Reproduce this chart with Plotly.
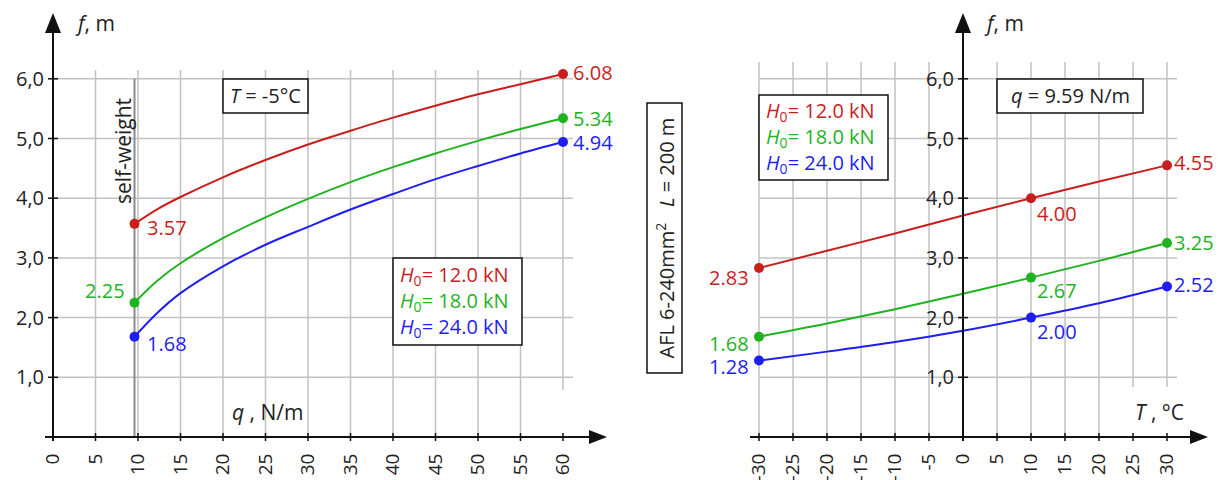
import plotly.graph_objects as go

# ---------------- data ----------------
q_left = [9.59, 12.2, 15, 20, 25, 30, 35, 40, 45, 50, 55, 60]
f_q_h12 = [3.57, 3.81, 4.02, 4.35, 4.64, 4.90, 5.13, 5.35, 5.55, 5.74, 5.91, 6.08]
f_q_h18 = [2.25, 2.61, 2.91, 3.33, 3.68, 3.99, 4.27, 4.52, 4.75, 4.96, 5.16, 5.34]
f_q_h24 = [1.68, 2.07, 2.41, 2.86, 3.22, 3.52, 3.81, 4.07, 4.32, 4.54, 4.75, 4.94]

t_right = [-30, -20, -10, 0, 10, 20, 30]
f_t_h12 = [2.83, 3.12, 3.41, 3.71, 4.00, 4.28, 4.55]
f_t_h18 = [1.68, 1.90, 2.14, 2.40, 2.67, 2.95, 3.25]
f_t_h24 = [1.28, 1.43, 1.59, 1.78, 2.00, 2.24, 2.52]
t_marked = [-30, 10, 30]

h0_values = ["12.0", "18.0", "24.0"]
q_self_weight = 9.59
temp_fixed = "-5"
q_ticks = list(range(0, 61, 5))
q_ticktext = [str(v) for v in q_ticks]
t_ticks = list(range(-30, 31, 5))
t_ticktext = [str(v) for v in t_ticks]
f_ticks = [1, 2, 3, 4, 5, 6]
f_ticktext = ["1,0", "2,0", "3,0", "4,0", "5,0", "6,0"]
cable_text = "AFL 6-240mm<sup>2</sup>\u00a0\u00a0\u00a0<i>L</i> = 200 m"

colors = ["#c81e1e", "#1fb31f", "#1e1ef0"]

# ---------------- geometry (pixels) ----------------
W, H = 1223, 480
Y0, PXU = 437, 59.7          # f = 0 line, px per metre
LX0, LPX = 53, 8.5           # q = 0 line, px per N/m
RX0, RPX = 963, 6.8          # T = 0 line, px per degC
SPLIT = 612
FONT = "Open Sans"
TXT = "#222222"
GRID = "#c2c2c2"


def px(x):
    return x / W


def py(y):
    return 1 - y / H


def f_of(y):
    return (Y0 - y) / PXU


def q_of(x):
    return (x - LX0) / LPX


def t_of(x):
    return (x - RX0) / RPX


fig = go.Figure()

left_series = [f_q_h12, f_q_h18, f_q_h24]
right_series = [f_t_h12, f_t_h18, f_t_h24]

for vals, c in zip(left_series, colors):
    fig.add_trace(go.Scatter(x=q_left, y=vals, mode="lines", line=dict(color=c, width=2, shape="spline"),
                             xaxis="x", yaxis="y", hoverinfo="skip"))
    fig.add_trace(go.Scatter(x=[q_left[0], q_left[-1]], y=[vals[0], vals[-1]], mode="markers",
                             marker=dict(color=c, size=10), xaxis="x", yaxis="y", hoverinfo="skip"))

for vals, c in zip(right_series, colors):
    fig.add_trace(go.Scatter(x=t_right, y=vals, mode="lines", line=dict(color=c, width=2, shape="spline"),
                             xaxis="x2", yaxis="y2", hoverinfo="skip"))
    mx = [t for t in t_right if t in t_marked]
    my = [v for t, v in zip(t_right, vals) if t in t_marked]
    fig.add_trace(go.Scatter(x=mx, y=my, mode="markers", marker=dict(color=c, size=10),
                             xaxis="x2", yaxis="y2", hoverinfo="skip"))

shapes = []
annotations = []

# ---------- grid ----------
for q in q_ticks[1:]:
    y0 = f_of(390) if q == q_ticks[-1] else 0
    shapes.append(dict(type="line", xref="x", yref="y", x0=q, x1=q, y0=y0, y1=f_of(70),
                       line=dict(color=GRID, width=1.5), layer="below"))
for f in f_ticks:
    shapes.append(dict(type="line", xref="x", yref="y", x0=0, x1=q_of(573), y0=f, y1=f,
                       line=dict(color=GRID, width=1.5), layer="below"))
for t in t_ticks:
    if t == 0:
        continue
    y0 = f_of(387) if t >= 25 else 0
    shapes.append(dict(type="line", xref="x2", yref="y2", x0=t, x1=t, y0=y0, y1=f_of(62),
                       line=dict(color=GRID, width=1.5), layer="below"))
for f in f_ticks:
    shapes.append(dict(type="line", xref="x2", yref="y2", x0=t_ticks[0], x1=t_of(1177), y0=f, y1=f,
                       line=dict(color=GRID, width=1.5), layer="below"))

# self-weight line
shapes.append(dict(type="line", xref="x", yref="y", x0=q_self_weight, x1=q_self_weight, y0=0, y1=6.0,
                   line=dict(color="#8a8a8a", width=2), layer="below"))
annotations.append(dict(xref="x", yref="y", x=q_of(123), y=f_of(151), text="self-weight", textangle=-90,
                        xanchor="center", yanchor="middle",
                        showarrow=False, font=dict(family=FONT, size=21, color=TXT)))

# ---------- axes ----------
AX = dict(color="#111111", width=2)
for xr, yr, xa, xb in [("x", "y", q_of(45), q_of(590)), ("x2", "y2", t_of(750), t_of(1191))]:
    shapes.append(dict(type="line", xref=xr, yref=yr, x0=xa, x1=xb, y0=0, y1=0, line=AX, layer="above"))
    shapes.append(dict(type="path", xref=xr, yref=yr, xsizemode="pixel", ysizemode="pixel",
                       xanchor=xb, yanchor=0, path="M -1 -7 L 17 0 L -1 7 Z",
                       fillcolor="#111111", line=dict(width=0), layer="above"))
for xr, yr in [("x", "y"), ("x2", "y2")]:
    shapes.append(dict(type="line", xref=xr, yref=yr, x0=0, x1=0, y0=f_of(441), y1=f_of(30),
                       line=AX, layer="above"))
    shapes.append(dict(type="path", xref=xr, yref=yr, xsizemode="pixel", ysizemode="pixel",
                       xanchor=0, yanchor=f_of(32), path="M -8 -1 L 0 19 L 8 -1 Z",
                       fillcolor="#111111", line=dict(width=0), layer="above"))

# tick marks (crossing)
for q in q_ticks:
    shapes.append(dict(type="line", xref="x", yref="y", ysizemode="pixel", yanchor=0, y0=-4, y1=4,
                       x0=q, x1=q, line=dict(color="#111111", width=1.5), layer="above"))
for t in t_ticks:
    shapes.append(dict(type="line", xref="x2", yref="y2", ysizemode="pixel", yanchor=0, y0=-4, y1=4,
                       x0=t, x1=t, line=dict(color="#111111", width=1.5), layer="above"))
for xr, yr in [("x", "y"), ("x2", "y2")]:
    for f in f_ticks:
        shapes.append(dict(type="line", xref=xr, yref=yr, xsizemode="pixel", xanchor=0, x0=-5, x1=5,
                           y0=f, y1=f, line=dict(color="#111111", width=1.5), layer="above"))

# axis titles
for x, y, t in [(73, 23, "<i>f</i>, m"), (230, 412, "<i>q</i> , N/m"),
                (982, 23, "<i>f</i>, m"), (1133, 412, "<i>T</i> , °C")]:
    annotations.append(dict(xref="paper", yref="paper", x=px(x), y=py(y), xanchor="left", yanchor="middle",
                            text=t, showarrow=False, font=dict(family=FONT, size=21, color=TXT)))


# ---------- boxes ----------
def box(x0, y0, x1, y1):
    shapes.append(dict(type="rect", xref="paper", yref="paper", x0=px(x0), x1=px(x1), y0=py(y1), y1=py(y0),
                       fillcolor="white", line=dict(color="#111111", width=1.5), layer="above"))


def centered(x, y, text, angle=0):
    annotations.append(dict(xref="paper", yref="paper", x=px(x), y=py(y), text=text, textangle=angle,
                            xanchor="center", yanchor="middle", showarrow=False,
                            font=dict(family=FONT, size=20, color=TXT)))


box(223, 79, 308, 113)
centered(265.5, 96, "<i>T</i> = " + temp_fixed + "°C")
box(997, 79, 1143, 113)
centered(1070, 96, "<i>q</i> = " + f"{q_self_weight:.2f}" + " N/m")
box(647, 103, 682, 373)
centered(664.5, 238, cable_text, -90)

legend_text = "<br>".join(
    f'<span style="color:{c}"><i>H</i><sub>0</sub>= {h} kN</span>' for c, h in zip(colors, h0_values))
box(393, 258, 522, 345)
annotations.append(dict(xref="paper", yref="paper", x=px(398), y=py(301.5), xanchor="left", yanchor="middle",
                        align="left", text=legend_text, showarrow=False, font=dict(family=FONT, size=20)))
box(759, 95, 888, 180)
annotations.append(dict(xref="paper", yref="paper", x=px(764), y=py(137.5), xanchor="left", yanchor="middle",
                        align="left", text=legend_text, showarrow=False, font=dict(family=FONT, size=20)))


# ---------- value labels ----------
def vlabel(xr, yr, x, y, c, dx, dy, anchor):
    annotations.append(dict(xref=xr, yref=yr, x=x, y=y, text=f"{y:.2f}", showarrow=False, xanchor=anchor,
                            yanchor="middle", xshift=dx, yshift=dy, font=dict(family=FONT, size=20, color=c)))


left_start = [(10, -4, "left"), (-8, 12, "right"), (10, -7, "left")]
left_end = [(8, 2, "left"), (8, 0, "left"), (8, 0, "left")]
for vals, c, s, e in zip(left_series, colors, left_start, left_end):
    vlabel("x", "y", q_left[0], vals[0], c, *s)
    vlabel("x", "y", q_left[-1], vals[-1], c, *e)

right_offsets = {
    -30: [(-8, -9, "right"), (-8, -7, "right"), (-8, -6, "right")],
    10: [(4, -15, "left"), (4, -13, "left"), (4, -14, "left")],
    30: [(5, 3, "left"), (5, 0, "left"), (5, 2, "left")],
}
for i, (vals, c) in enumerate(zip(right_series, colors)):
    for t, v in zip(t_right, vals):
        if t in t_marked:
            vlabel("x2", "y2", t, v, c, *right_offsets[t][i])

axis_common = dict(showgrid=False, zeroline=False, showline=False, ticks="outside", automargin=False,
                   tickcolor="rgba(0,0,0,0)")
xfont = dict(family=FONT, size=19, color=TXT)
yfont = dict(family=FONT, size=20, color=TXT)

fig.update_layout(
    width=W, height=H, margin=dict(l=0, r=0, t=0, b=0, pad=0, autoexpand=False),
    paper_bgcolor="white", plot_bgcolor="white", showlegend=False,
    xaxis=dict(domain=[0, SPLIT / W], range=[q_of(0), q_of(SPLIT)], anchor="free", position=py(Y0),
               tickvals=q_ticks, ticktext=q_ticktext, tickangle=-90, ticklen=8, tickfont=xfont, **axis_common),
    xaxis2=dict(domain=[SPLIT / W, 1], range=[t_of(SPLIT), t_of(W)], anchor="free", position=py(Y0),
                tickvals=t_ticks, ticktext=t_ticktext, tickangle=-90, ticklen=8, tickfont=xfont, **axis_common),
    yaxis=dict(domain=[0, 1], range=[f_of(H), f_of(0)], anchor="free", position=px(LX0),
               tickvals=f_ticks, ticktext=f_ticktext, ticklen=5, tickfont=yfont, **axis_common),
    yaxis2=dict(domain=[0, 1], range=[f_of(H), f_of(0)], anchor="free", position=px(RX0),
                tickvals=f_ticks, ticktext=f_ticktext, ticklen=5, tickfont=yfont, **axis_common),
    shapes=shapes, annotations=annotations,
)

fig.write_html("out.html", config={"displayModeBar": False},
               post_script="document.body.style.margin='0';document.body.style.overflow='hidden';")
